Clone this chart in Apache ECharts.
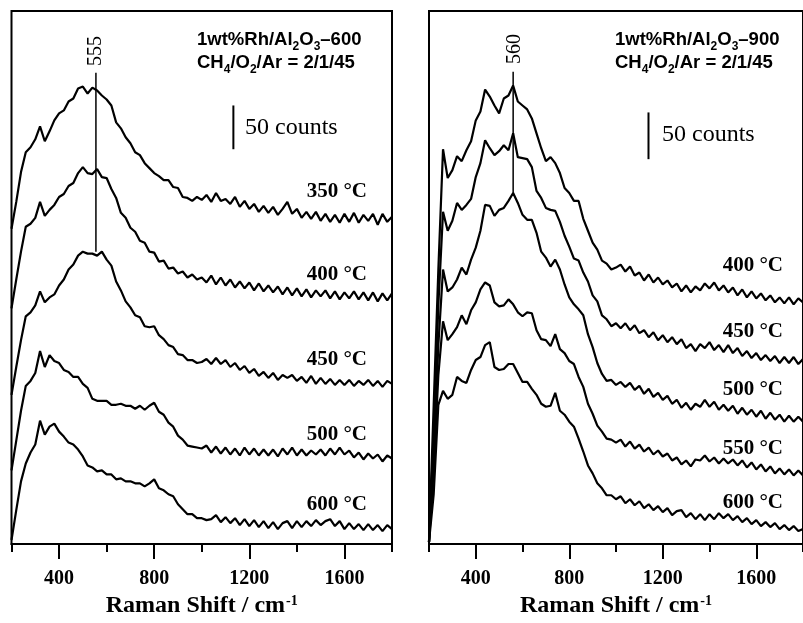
<!DOCTYPE html>
<html><head><meta charset="utf-8">
<script src="https://cdn.jsdelivr.net/npm/echarts@6/dist/echarts.min.js"></script>
<style>html,body{margin:0;padding:0;background:#fff}#c{width:803px;height:623px}</style>
</head><body><div id="c"></div>
<script>
// Raman shift grid (cm-1), shared by all spectra
const shift = [200,220,240,260,280,300,320,340,360,380,400,420,440,460,480,500,520,540,560,580,
  600,620,640,660,680,700,720,740,760,780,800,820,840,860,880,900,920,940,960,980,
  1000,1020,1040,1060,1080,1100,1120,1140,1160,1180,1200,1220,1240,1260,1280,1300,1320,1340,1360,1380,
  1400,1420,1440,1460,1480,1500,1520,1540,1560,1580,1600,1620,1640,1660,1680,1700,1720,1740,1760,1780,1800];
const xTickLabels = [400, 800, 1200, 1600];

// Left panel: 1wt%Rh/Al2O3-600 (stacked intensity, a.u.)
const tempsLeft = ['350 °C', '400 °C', '450 °C', '500 °C', '600 °C'];
const left350 = [317,344,374,394,399,407,420,405,415,426,433,436,445,448,458,460,453,459,456,451,
  447,441,424,418,409,403,394,391,383,378,373,370,366,366,359,358,349,348,345,349,
  346,351,344,353,345,347,342,349,339,345,337,342,334,340,333,339,331,337,344,332,
  337,328,334,327,334,325,332,324,331,323,332,324,333,323,331,325,332,321,332,324,329];
const left400 = [237,266,294,319,322,328,344,330,336,341,349,352,360,363,373,379,373,372,377,369,
  368,357,348,333,328,318,314,305,303,294,293,284,285,277,278,272,274,268,271,266,
  268,263,270,261,268,260,266,258,264,257,263,255,262,254,260,253,259,251,258,250,
  257,249,256,248,255,249,255,247,254,246,253,247,254,246,253,245,253,244,252,245,252];
const left450 = [150,178,205,229,233,240,254,243,248,251,260,266,276,281,290,294,292,292,290,294,
  286,280,264,255,244,238,230,228,219,218,219,210,206,200,198,191,190,185,185,182,
  183,186,181,187,181,185,178,182,175,179,172,176,169,173,167,172,165,170,167,170,
  164,168,162,169,161,167,161,166,160,165,160,165,159,164,160,165,159,164,158,164,161];
const left500 = [74,104,134,159,164,172,194,178,190,184,182,175,173,168,168,161,157,146,144,144,
  144,140,140,141,139,139,136,139,135,139,142,133,130,122,118,109,105,99,98,97,
  96,99,92,98,91,97,90,96,89,97,90,96,89,95,89,95,88,96,90,97,
  89,95,89,94,90,95,89,96,90,97,90,94,87,92,85,91,86,90,83,89,86];
const left600 = [4,34,63,81,92,100,124,110,118,121,113,108,102,100,95,88,79,77,73,74,
  70,70,65,66,63,63,61,61,58,61,65,56,54,50,48,40,35,30,30,26,
  26,24,25,29,22,27,21,26,19,25,18,24,17,23,16,22,15,21,23,16,
  23,17,23,18,24,19,23,25,18,23,15,21,15,20,14,20,14,19,13,19,15];

// Right panel: 1wt%Rh/Al2O3-900
const tempsRight = ['400 °C', '450 °C', '500 °C', '550 °C', '600 °C'];
const right400 = [2,139,276,397,368,376,390,385,396,405,426,435,457,450,441,433,448,451,461,445,
  441,437,428,413,398,385,389,383,373,358,353,345,345,327,315,303,296,285,282,276,
  278,281,274,279,270,273,265,271,263,268,261,265,258,262,254,260,253,259,255,262,
  257,263,255,260,253,258,250,256,248,254,247,252,245,250,243,248,242,248,241,247,243];
const right450 = [2,110,240,334,315,325,343,336,341,347,369,383,406,398,391,395,401,396,413,389,
  388,387,379,355,348,338,336,335,324,310,299,287,285,273,264,250,244,230,226,219,
  222,217,222,215,220,212,215,208,213,205,210,203,208,201,206,197,201,194,201,197,
  203,195,200,193,200,192,197,189,194,187,192,185,190,184,189,182,188,182,188,181,186];
const right500 = [2,90,200,276,254,258,266,278,271,286,298,315,341,340,330,336,338,345,353,343,
  331,326,326,313,294,288,279,286,276,261,248,241,236,230,211,198,182,171,164,165,
  160,163,158,162,155,159,151,156,148,152,145,149,141,145,137,142,135,141,138,145,
  138,143,135,140,134,139,131,137,130,135,128,134,126,132,125,130,123,129,123,128,123];
const right550 = [2,75,170,224,205,211,218,230,221,235,243,256,263,260,243,239,240,246,241,233,
  229,233,232,215,206,205,199,211,196,192,184,181,168,158,141,131,119,113,106,105,
  102,105,98,103,96,100,93,97,90,94,88,91,84,87,80,84,78,85,84,89,
  83,87,81,86,81,85,79,84,77,82,75,80,73,78,71,76,70,75,69,74,69];
const right600 = [2,50,140,154,146,150,168,164,162,175,185,188,200,203,178,175,176,181,181,172,
  163,163,156,150,141,138,139,152,134,130,123,118,106,93,79,71,61,56,49,49,
  45,48,41,45,39,43,36,40,34,38,32,36,29,33,34,27,31,25,30,24,
  30,25,31,26,30,24,28,22,26,20,24,18,22,17,21,15,19,14,18,13,15];

// Peak markers and 50-count scale bars
const peakLeft = 555, peakLeftSpan = [294, 474];
const peakRight = 560, peakRightSpan = [350, 475];
const barLeftX = 1133, barLeftSpan = [397, 441];
const barRightX = 1139, barRightSpan = [387, 434];

const leftSeries = [left350, left400, left450, left500, left600];
const rightSeries = [right400, right450, right500, right550, right600];

const serif = 'Liberation Serif';
const sans = 'Liberation Sans';

function spectrum(vals, idx) {
  return {
    type: 'line', xAxisIndex: idx, yAxisIndex: idx, showSymbol: false, silent: true,
    data: shift.map((x, i) => [x, vals[i]]),
    lineStyle: { color: '#000', width: 2.2 }, z: 3
  };
}
function vline(x, span, idx, w) {
  return {
    type: 'line', xAxisIndex: idx, yAxisIndex: idx, showSymbol: false, silent: true,
    data: [[x, span[0]], [x, span[1]]], lineStyle: { color: '#000', width: w }, z: 4
  };
}
function mainX(grid) {
  return {
    gridIndex: grid, type: 'value', min: 200, max: 1800, interval: 200, position: 'bottom',
    axisLine: { show: true, lineStyle: { color: '#000', width: 2 } },
    axisTick: { show: true, length: 8, lineStyle: { color: '#000', width: 2 } },
    axisLabel: { customValues: xTickLabels, formatter: v => String(v), margin: 25, color: '#000', fontFamily: serif, fontWeight: 'bold', fontSize: 20 },
    splitLine: { show: false },
    name: '{m|Raman Shift / cm}{s|-1}', nameLocation: 'middle', nameGap: 50,
    nameTextStyle: {
      color: '#000', fontFamily: serif, fontWeight: 'bold', fontSize: 24,
      rich: {
        m: { color: '#000', fontFamily: serif, fontWeight: 'bold', fontSize: 24, lineHeight: 28, verticalAlign: 'top' },
        s: { color: '#000', fontFamily: serif, fontWeight: 'bold', fontSize: 14, lineHeight: 10, verticalAlign: 'top', padding: [0, 0, 0, 1] }
      }
    }
  };
}
function majorX(grid) {
  return {
    gridIndex: grid, type: 'value', min: 200, max: 1800, interval: 200, position: 'bottom', offset: 0,
    axisLine: { show: false },
    axisTick: { show: true, customValues: xTickLabels, length: 15, lineStyle: { color: '#000', width: 2 } },
    axisLabel: { show: false }, splitLine: { show: false }
  };
}
function yAx(grid) {
  return { gridIndex: grid, type: 'value', min: 0, max: 536, show: false, splitLine: { show: false } };
}

function tempLabel(text, x, y) {
  return { type: 'text', x: x, y: y, z: 10, style: {
    text: text, fill: '#000', font: 'bold 21px "' + serif + '"',
    align: 'right', verticalAlign: 'middle', textAlign: 'right', textVerticalAlign: 'middle' } };
}
function plainText(text, x, y, size, rot) {
  return { type: 'text', x: x, y: y, rotation: rot || 0, z: 10, style: {
    text: text, fill: '#000', font: size + 'px "' + serif + '"',
    align: rot ? 'center' : 'left', verticalAlign: 'middle',
    textAlign: rot ? 'center' : 'left', textVerticalAlign: 'middle' } };
}
const annRich = {
  b: { fontFamily: sans, fontWeight: 'bold', fontSize: 18.5, color: '#000', lineHeight: 23, verticalAlign: 'top' },
  s: { fontFamily: sans, fontWeight: 'bold', fontSize: 12, color: '#000', lineHeight: 12, verticalAlign: 'top', padding: [11, 0, 0, 0] }
};
function annotation(suffix, x) {
  return { type: 'text', x: x, y: 30, z: 10, style: {
    text: '{b|1wt%Rh/Al}{s|2}{b|O}{s|3}{b|–' + suffix + '}\n{b|CH}{s|4}{b|/O}{s|2}{b|/Ar = 2/1/45}',
    rich: annRich, fill: '#000', verticalAlign: 'top', textVerticalAlign: 'top' } };
}

const leftLabelY = [192, 275, 360, 435, 505];
const rightLabelY = [266, 332, 390, 449, 503];

const graphics = [];
tempsLeft.forEach((t, i) => graphics.push(tempLabel(t, 367, leftLabelY[i])));
tempsRight.forEach((t, i) => graphics.push(tempLabel(t, 783, rightLabelY[i])));
graphics.push(annotation('600', 197));
graphics.push(annotation('900', 615));
graphics.push(plainText('50 counts', 245, 128, 24));
graphics.push(plainText('50 counts', 662, 135, 24));
graphics.push(plainText(String(peakLeft), 96, 51, 20, Math.PI / 2));
graphics.push(plainText(String(peakRight), 515, 49, 20, Math.PI / 2));

const series = [];
leftSeries.forEach(v => series.push(spectrum(v, 0)));
rightSeries.forEach(v => series.push(spectrum(v, 1)));
series.push(vline(peakLeft, peakLeftSpan, 0, 1.5));
series.push(vline(peakRight, peakRightSpan, 1, 1.5));
series.push(vline(barLeftX, barLeftSpan, 0, 2));
series.push(vline(barRightX, barRightSpan, 1, 2));

const option = {
  animation: false,
  backgroundColor: '#fff',
  grid: [
    { left: 11.5, top: 11, width: 380.5, height: 536, show: true, borderColor: '#000', borderWidth: 2, containLabel: false },
    { left: 429, top: 11, width: 380, height: 536, show: true, borderColor: '#000', borderWidth: 2, containLabel: false }
  ],
  xAxis: [mainX(0), mainX(1), majorX(0), majorX(1)],
  yAxis: [yAx(0), yAx(1)],
  series: series,
  graphic: graphics
};
const chart = echarts.init(document.getElementById('c'), null, { renderer: 'canvas' });
chart.setOption(option);
</script></body></html>
